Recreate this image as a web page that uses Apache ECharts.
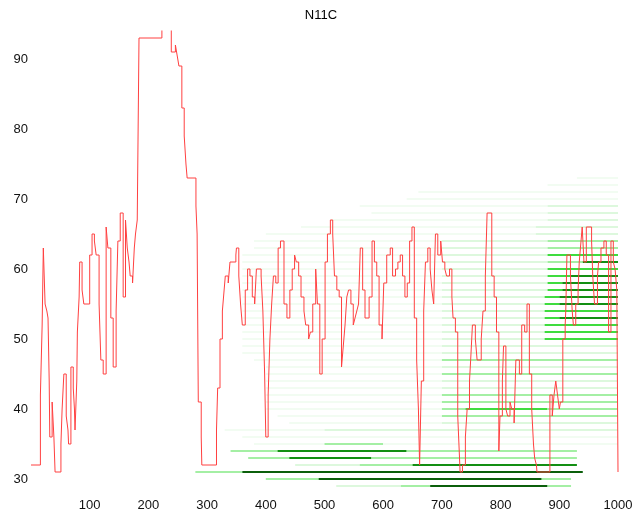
<!DOCTYPE html>
<html>
<head>
<meta charset="utf-8">
<script src="https://cdn.jsdelivr.net/npm/echarts@6/dist/echarts.min.js"></script>
<style>
  html, body { margin: 0; padding: 0; background: #fff; }
  #main { width: 642px; height: 518px; }
</style>
</head>
<body>
<div id="main"></div>
<script>
// red trace, step points: value holds from x until the next x
var traceX = [0, 16, 19, 21, 24, 27, 29, 31, 32, 36, 39, 41, 51, 53, 56, 60, 63, 64, 68, 72, 74, 75, 78, 79, 82, 83, 87, 90,
  100, 104, 108, 111, 116, 119, 123, 128, 131, 136, 140, 145, 148, 152, 157, 161, 164, 167, 169, 173, 176, 178, 181, 184,
  223, 239, 246, 248, 250, 252, 257, 261, 264, 266, 281, 283, 285, 290, 291, 316, 318, 322, 326, 328, 331, 336, 339, 349,
  350, 354, 357, 360, 365, 369, 373, 377, 381, 384, 392, 395, 398, 400, 404, 407, 410, 413, 417, 421, 425, 431, 436, 441,
  445, 449, 452, 456, 460, 465, 468, 473, 476, 480, 485, 488, 492, 496, 501, 505, 510, 514, 517, 521, 525, 529, 532, 535,
  538, 541, 545, 549, 552, 555, 558, 561, 565, 569, 576, 581, 585, 589, 593, 598, 601, 606, 612, 616, 621, 625, 629, 633,
  637, 641, 645, 649, 653, 657, 660, 662, 665, 669, 672, 676, 680, 683, 686, 689, 693, 698, 701, 705, 708, 713, 717, 719,
  723, 727, 729, 731, 735, 740, 743, 747, 749, 752, 757, 760, 767, 770, 774, 777, 785, 789, 793, 797, 799, 803, 805, 809,
  812, 816, 819, 823, 826, 832, 836, 841, 845, 849, 853, 856, 858, 861, 862, 884, 888, 891, 894, 897, 900, 902, 906, 910,
  911, 913, 919, 922, 924, 928, 932, 934, 937, 939, 942, 946, 955, 957, 960, 965, 967, 971, 976, 980, 984, 988, 992, 995,
  998, 1000];
var traceY = [32, 42, 52, 63, 55, 54, 53, 44, 36, 41, 36, 31, 35, 40, 45, 39, 37, 35, 46, 43, 40, 37, 44, 51, 56, 61, 57, 55,
  62, 65, 64, 62, 55, 47, 45, 66, 63, 53, 46, 54, 64, 68, 56, 67, 63, 61, 59, 58, 63, 65, 67, 93,
  97, 91, 92, 91, 90, 89, 83, 79, 75, 73, 69, 65, 41, 36, 32, 37, 43, 50, 54, 56, 59, 58, 61, 62,
  63, 59, 55, 52, 57, 60, 59, 56, 55, 60, 59, 54, 45, 36, 42, 50, 55, 59, 58, 63, 64, 55, 53, 57,
  60, 62, 61, 59, 56, 54, 52, 50, 51, 55, 60, 55, 45, 50, 61, 65, 67, 65, 59, 57, 56, 46, 49, 52,
  56, 57, 55, 52, 53, 54, 55, 63, 57, 53, 56, 64, 61, 59, 52, 50, 58, 62, 63, 59, 60, 61, 62, 59,
  56, 58, 64, 66, 53, 47, 40, 32, 44, 54, 61, 63, 60, 57, 55, 65, 62, 64, 61, 60, 59, 60, 56, 53,
  51, 39, 35, 31, 32, 36, 40, 44, 47, 52, 50, 47, 50, 54, 59, 68, 59, 56, 51, 34, 39, 44, 49, 40,
  39, 41, 40, 38, 47, 45, 52, 51, 55, 45, 40, 35, 33, 32, 31, 42, 39, 42, 44, 42, 40, 41, 50, 52,
  54, 62, 59, 54, 52, 55, 57, 61, 64, 66, 61, 66, 64, 59, 55, 59, 61, 63, 64, 62, 51, 64, 61, 60,
  57, 31];

// green traces: row value, then [from, to, strength 1..6]
var bandRows = [73, 72, 71, 70, 69, 68, 67, 66, 65, 64, 63, 62, 61, 60, 59, 58, 57, 56, 55, 54, 53, 52, 51, 50,
  49, 48, 47, 46, 45, 44, 43, 42, 41, 40, 39, 38, 37, 36, 35, 34, 33, 32, 31, 30, 29];
var bandSegs = [
  [[930, 1000, 1]],
  [[880, 1000, 1]],
  [[660, 1000, 1]],
  [[640, 1000, 1]],
  [[560, 880, 1], [880, 1000, 2]],
  [[580, 880, 1], [880, 1000, 2]],
  [[510, 880, 1], [880, 1000, 2]],
  [[460, 860, 1], [860, 1000, 2]],
  [[400, 860, 1], [860, 1000, 2]],
  [[380, 700, 1], [700, 880, 2], [880, 1000, 3]],
  [[380, 700, 1], [700, 880, 2], [880, 1000, 3]],
  [[360, 700, 1], [700, 880, 2], [880, 1000, 4]],
  [[360, 700, 1], [700, 880, 2], [880, 940, 3], [940, 1000, 5]],
  [[360, 700, 1], [700, 880, 2], [880, 1000, 4]],
  [[360, 700, 1], [700, 880, 2], [880, 920, 4], [920, 1000, 5]],
  [[360, 700, 1], [700, 880, 2], [880, 905, 4], [905, 1000, 5]],
  [[360, 700, 1], [700, 880, 2], [880, 905, 4], [905, 1000, 5]],
  [[360, 700, 1], [700, 875, 2], [875, 900, 4], [900, 1000, 5]],
  [[360, 700, 1], [700, 875, 2], [875, 900, 4], [900, 1000, 5]],
  [[360, 700, 1], [700, 875, 2], [875, 1000, 4]],
  [[360, 700, 1], [700, 875, 2], [875, 900, 4], [900, 1000, 5]],
  [[360, 700, 1], [700, 875, 2], [875, 1000, 4]],
  [[360, 700, 1], [700, 875, 2], [875, 1000, 4]],
  [[360, 700, 1], [700, 875, 2], [875, 1000, 4]],
  [[360, 700, 1], [700, 1000, 2]],
  [[360, 700, 1], [700, 1000, 2]],
  [[380, 700, 1], [700, 1000, 3]],
  [[400, 700, 1], [700, 1000, 2]],
  [[400, 700, 1], [700, 1000, 3]],
  [[400, 700, 1], [700, 1000, 2]],
  [[400, 700, 1], [700, 1000, 2]],
  [[400, 700, 1], [700, 1000, 3]],
  [[400, 700, 1], [700, 1000, 3]],
  [[400, 700, 1], [700, 740, 3], [740, 880, 4], [880, 1000, 3]],
  [[420, 700, 1], [700, 1000, 3]],
  [[440, 700, 1], [700, 1000, 2]],
  [[330, 500, 1], [500, 1000, 2]],
  [[360, 1000, 1]],
  [[380, 500, 1], [500, 600, 3], [600, 1000, 1]],
  [[340, 420, 3], [420, 640, 5], [640, 930, 3]],
  [[370, 440, 3], [440, 580, 5], [580, 930, 3]],
  [[450, 560, 2], [560, 650, 3], [650, 930, 5]],
  [[280, 360, 3], [360, 940, 6]],
  [[400, 490, 3], [490, 870, 6], [870, 920, 3]],
  [[520, 630, 2], [630, 680, 3], [680, 880, 6], [880, 920, 3]]
];
var xTicks = [100, 200, 300, 400, 500, 600, 700, 800, 900, 1000];

var greens = ['#ffffff', '#f2fcf2', '#ddf8dd', '#a4efa4', '#3fdc3f', '#138f13', '#0b5f0b'];

// expand the step trace into corner points
var lineData = [];
traceX.forEach(function (x, i) {
  if (i > 0) lineData.push([x, traceY[i - 1]]);
  lineData.push([x, traceY[i]]);
});
var segData = [];
bandRows.forEach(function (row, i) {
  bandSegs[i].forEach(function (s) {
    segData.push([row, s[0], s[1], s[2]]);
  });
});

var chart = echarts.init(document.getElementById('main'));
chart.setOption({
  animation: false,
  backgroundColor: '#fff',
  title: {
    text: 'N11C',
    left: 'center',
    top: 4,
    textStyle: { fontFamily: 'Liberation Sans', fontSize: 13, fontWeight: 'normal', color: '#000' }
  },
  grid: { left: 31, right: 24, top: 31, bottom: 25 },
  xAxis: {
    type: 'value',
    min: 0,
    max: 1000,
    interval: 100,
    axisLine: { show: false },
    axisTick: { show: false },
    splitLine: { show: false },
    axisLabel: {
      margin: 6,
      fontFamily: 'Liberation Sans',
      fontSize: 13,
      color: '#111',
      formatter: function (v) { return xTicks.indexOf(v) >= 0 ? String(v) : ''; }
    }
  },
  yAxis: {
    type: 'value',
    min: 28,
    max: 94,
    splitNumber: 7,
    axisLine: { show: false },
    axisTick: { show: false },
    splitLine: { show: false },
    axisLabel: {
      margin: 3,
      showMinLabel: false,
      showMaxLabel: false,
      fontFamily: 'Liberation Sans',
      fontSize: 13,
      color: '#111',
      formatter: function (v) { return v % 10 === 0 ? String(v) : ''; }
    }
  },
  series: [
    {
      type: 'custom',
      z: 1,
      clip: true,
      data: segData,
      encode: { x: [1, 2], y: 0 },
      renderItem: function (params, api) {
        var p0 = api.coord([api.value(1), api.value(0)]);
        var p1 = api.coord([api.value(2), api.value(0)]);
        return {
          type: 'rect',
          shape: { x: p0[0], y: p0[1] - 1, width: p1[0] - p0[0], height: 2 },
          style: { fill: greens[api.value(3)] }
        };
      }
    },
    {
      type: 'line',
      z: 3,
      data: lineData,
      symbol: 'none',
      clip: true,
      lineStyle: { color: '#ff4040', width: 1 }
    }
  ]
});
</script>
</body>
</html>
